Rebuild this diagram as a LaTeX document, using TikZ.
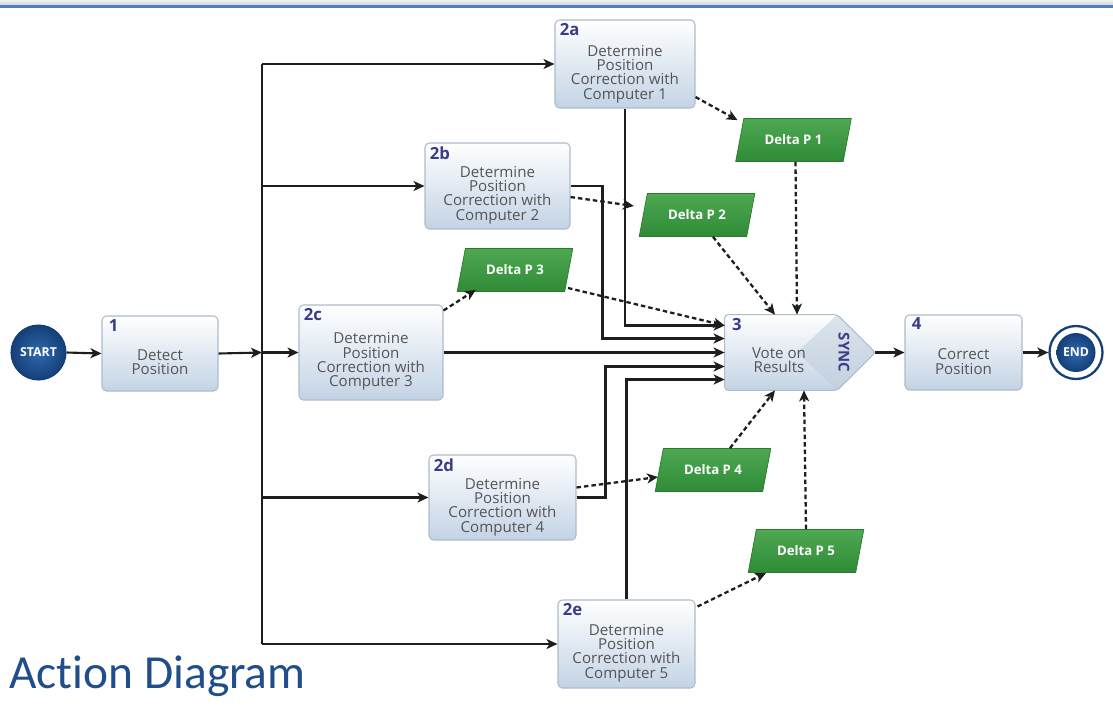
\documentclass[tikz,border=0pt]{standalone}
\usepackage{fontspec}
\setmainfont{Open Sans}
\newfontfamily\titlefont[Ligatures={NoCommon}]{Carlito}
\usetikzlibrary{shapes.geometric,arrows.meta,calc}
\definecolor{boxline}{HTML}{AEBCCB}
\definecolor{boxbot}{HTML}{C3D3E5}
\definecolor{txtgray}{HTML}{555555}
\definecolor{lblcol}{HTML}{3B3B8A}
\definecolor{greentop}{HTML}{4FA852}
\definecolor{greenbot}{HTML}{2F8B37}
\definecolor{greenline}{HTML}{2A7A30}
\definecolor{linecol}{HTML}{1E1E1E}
\definecolor{bluein}{HTML}{2F69AE}
\definecolor{blueout}{HTML}{143F78}
\definecolor{titleblue}{HTML}{1F4E8A}
\definecolor{bandtop}{HTML}{F2F2F2}
\definecolor{bandbot}{HTML}{D0D4D9}
\definecolor{bandblue}{HTML}{4F81BD}
\definecolor{diamondtop}{HTML}{DCE4ED}
\definecolor{diamondbot}{HTML}{C2D0DF}
\tikzset{
  wh/.style 2 args={minimum width=#1*0.02cm, minimum height=#2*0.02cm},
  box/.style={rectangle, rounded corners=2.5pt, draw=boxline, line width=0.6pt,
    top color=white, bottom color=boxbot, inner sep=0pt},
  btext/.style={font=\fontsize{8.6}{8.1}\selectfont, text=txtgray, align=center, inner sep=0pt},
  numlbl/.style={font=\bfseries\fontsize{9.5}{10}\selectfont, text=lblcol, anchor=north west, inner sep=0pt},
  delta/.style={trapezium, trapezium left angle=65, trapezium right angle=115,
    trapezium stretches=true, top color=greentop, bottom color=greenbot,
    draw=greenline, line width=0.4pt, text=white,
    font=\bfseries\fontsize{7.5}{8}\selectfont, wh={116}{43}, inner sep=0pt},
  arr/.style={draw=linecol, line width=1.2pt, -{Stealth[length=0.22cm, width=0.2cm, inset=0.06cm]}},
  plain/.style={draw=linecol, line width=1.2pt},
  darr/.style={arr, line width=1.3pt, dash pattern=on 0.09cm off 0.06cm},
  blueball/.style={circle, inner color=bluein, outer color=blueout, text=white,
    font=\bfseries\fontsize{7}{7}\selectfont, inner sep=0pt}
}
\begin{document}
\begin{tikzpicture}[x=0.02cm,y=-0.02cm]
\useasboundingbox (0,0) rectangle (1113,708);
% top band
\fill[top color=bandtop, bottom color=bandbot] (0,0) rectangle (1113,5);
\fill[bandblue] (0,5) rectangle (1113,7.5);

% start / end
\node[blueball, draw=blueout, line width=0.6pt, wh={55}{55}] (start) at (38.5,352.5) {START};
\node[circle, draw=blueout, line width=1.3pt, fill=white, wh={53}{53}] (endc) at (1076,352.5) {};
\node[blueball, wh={39}{39}] (endin) at (endc.center) {END};

% boxes
\node[box, wh={116}{75}] (n1) at (160,353.5) {};
\node[box, wh={140}{88}] (b2a) at (625,64) {};
\node[box, wh={145}{86}] (b2b) at (497.5,186) {};
\node[box, wh={144}{95}] (b2c) at (371,352.5) {};
\node[box, wh={147}{85}] (b2d) at (502.5,497.5) {};
\node[box, wh={137}{88}] (b2e) at (626.5,644) {};
\node[box, wh={117}{75}] (n4) at (963.5,352.5) {};
% vote node (pentagon with sync point)
\node[rectangle, inner sep=0pt, wh={150}{75}] (n3) at (800,352.5) {};
\path[top color=white, bottom color=boxbot, rounded corners=2pt]
  (n3.north west) -- ($(n3.north east)+(-38,0)$) -- (n3.east) --
  ($(n3.south east)+(-38,0)$) -- (n3.south west) -- cycle;
\path[top color=diamondtop, bottom color=diamondbot] ($(n3.center)+(-3,0)$) -- ($(n3.north east)+(-38,0)$) --
  (n3.east) -- ($(n3.south east)+(-38,0)$) -- cycle;
\draw[boxline, line width=0.6pt, rounded corners=2pt]
  (n3.north west) -- ($(n3.north east)+(-38,0)$) -- (n3.east) --
  ($(n3.south east)+(-38,0)$) -- (n3.south west) -- cycle;

% labels
\node[numlbl] at ($(n1.north west)+(7,4)$) {1};
\node[numlbl] at ($(b2a.north west)+(5,4)$) {2a};
\node[numlbl] at ($(b2b.north west)+(5,4)$) {2b};
\node[numlbl] at ($(b2c.north west)+(5,4)$) {2c};
\node[numlbl] at ($(b2d.north west)+(5,4)$) {2d};
\node[numlbl] at ($(b2e.north west)+(5,4)$) {2e};
\node[numlbl] at ($(n3.north west)+(7,3)$) {3};
\node[numlbl] at ($(n4.north west)+(7,3)$) {4};

% texts
\node[btext] at ($(n1.center)+(0,9)$) {Detect\\Position};
\node[btext] at ($(b2a.center)+(0,10)$) {Determine\\Position\\Correction with\\Computer 1};
\node[btext] at ($(b2b.center)+(0,9)$) {Determine\\Position\\Correction with\\Computer 2};
\node[btext] at ($(b2c.center)+(0,9)$) {Determine\\Position\\Correction with\\Computer 3};
\node[btext] at ($(b2d.center)+(0,9.5)$) {Determine\\Position\\Correction with\\Computer 4};
\node[btext] at ($(b2e.center)+(0,9)$) {Determine\\Position\\Correction with\\Computer 5};
\node[btext] at (779,360) {Vote on\\Results};
\node[btext] at ($(n4.center)+(0,9)$) {Correct\\Position};
\node[font=\bfseries\fontsize{8.5}{9}\selectfont, text=lblcol, rotate=-90, inner sep=0pt] at (844,352.5) {SYNC};

% deltas
\node[delta] (dp1) at (793.5,140) {Delta P 1};
\node[delta] (dp2) at (697,215) {Delta P 2};
\node[delta] (dp3) at (515,270) {Delta P 3};
\node[delta] (dp4) at (713,470) {Delta P 4};
\node[delta] (dp5) at (806,551) {Delta P 5};

% left side flow
\coordinate (junc) at (262,352.5);
\draw[arr] (start.east) -- (n1.west);
\draw[arr] (n1.east) -- (junc);
\draw[arr] (junc) -- (b2c.west);
\draw[plain] (junc |- b2a.west) -- (junc |- b2e.west);
\draw[arr] (junc |- b2a.west) -- (b2a.west);
\draw[arr] (junc |- b2b.west) -- (b2b.west);
\draw[arr] (junc |- b2d.west) -- (b2d.west);
\draw[arr] (junc |- b2e.west) -- (b2e.west);

% into vote
\draw[arr] (b2a.south) |- ($(n3.west)+(0,-27)$);
\draw[arr] (b2b.east) -- ++(32,0) |- ($(n3.west)+(0,-14)$);
\draw[arr] (b2c.east) -- (n3.west);
\draw[arr] (b2d.east) -- ++(29,0) |- ($(n3.west)+(0,14)$);
\draw[arr] (b2e.north) |- ($(n3.west)+(0,27)$);

% right side flow
\draw[arr] (n3.east) -- (n4.west);
\draw[arr] (n4.east) -- (endc.west);

% dashed data flows
\draw[darr] ($(b2a.east)+(0,33)$) -- ($(dp1.top left corner)+(-6,2)$);
\draw[darr] ($(dp1.south)+(2,0)$) -- ($(n3.north)+(-3,0)$);
\draw[darr] ($(b2b.east)+(0,11)$) -- ($(dp2.west)+(-9,-9)$);
\draw[darr] ($(dp2.south)+(16,0)$) -- ($(n3.north)+(-25,0)$);
\draw[darr] ($(b2c.north east)+(0,6)$) -- ($(dp3.bottom left corner)+(19,-2)$);
\draw[darr] ($(dp3.center)+(53,18)$) -- ($(n3.west)+(0,-27)$);
\draw[darr] ($(b2d.east)+(0,-10)$) -- ($(dp4.center)+(-55,7)$);
\draw[darr] ($(dp4.north)+(17,0)$) -- ($(n3.south)+(-25,0)$);
\draw[darr] ($(b2e.north east)+(2,7)$) -- ($(dp5.center)+(-40,22)$);
\draw[darr] (dp5.north) -- ($(n3.south)+(4,0)$);

% title
\node[anchor=base west, inner sep=0pt, font=\titlefont\fontsize{27}{30}\selectfont, text=titleblue] (title) at (9,688) {Action Diagram};
\end{tikzpicture}
\end{document}
